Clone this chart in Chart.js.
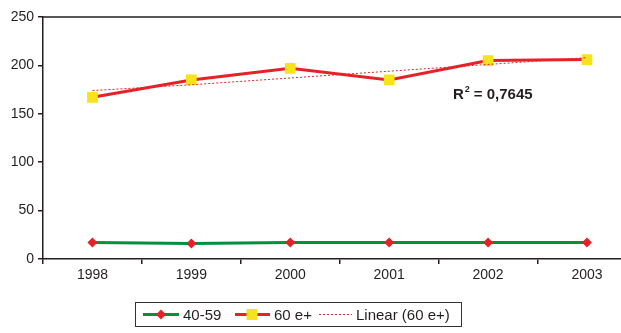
<!DOCTYPE html>
<html>
<head>
<meta charset="utf-8">
<script src="https://cdn.jsdelivr.net/npm/chart.js@4.4.0/dist/chart.umd.min.js"></script>
<style>
  html, body { margin: 0; padding: 0; background: #fff; overflow: hidden; }
  #wrap { width: 644px; height: 333px; position: relative; }
</style>
</head>
<body>
<div id="wrap"><canvas id="grafico"></canvas></div>
<script>
// Dados
const anos = ['1998', '1999', '2000', '2001', '2002', '2003'];
const faixa40a59 = [17, 16, 17, 17, 17, 17];
const faixa60mais = [167, 185, 197, 185, 205, 206];
const linear60mais = [174, 180, 187, 194, 201, 208];
const rotulos = ['40-59', '60 e+', 'Linear (60 e+)'];
const valorR2 = '0,7645';
const yMin = 0, yMax = 250, yPasso = 50;

// Cores
const verde = '#00913f';
const vermelho = '#e42228';
const amarelo = '#f7e31b';
const texto = '#231f20';
const fonte = '"Liberation Sans", Arial, sans-serif';

// Borda superior, R² e legenda desenhados por cima
const extras = {
  id: 'extras',
  afterDraw(chart) {
    const { ctx, chartArea: a } = chart;
    ctx.save();

    // borda superior da área do gráfico
    ctx.strokeStyle = texto;
    ctx.lineWidth = 1.5;
    ctx.beginPath();
    ctx.moveTo(a.left, a.top);
    ctx.lineTo(a.right, a.top);
    ctx.stroke();

    // R²
    ctx.fillStyle = texto;
    ctx.textBaseline = 'alphabetic';
    let x = 453, y = 99;
    ctx.font = 'bold 15px ' + fonte;
    ctx.fillText('R', x, y);
    x += ctx.measureText('R').width + 1;
    ctx.font = 'bold 9px ' + fonte;
    ctx.fillText('2', x, y - 7);
    x += ctx.measureText('2').width + 4;
    ctx.font = 'bold 15px ' + fonte;
    ctx.fillText('= ' + valorR2, x, y);

    // legenda
    ctx.strokeStyle = '#333';
    ctx.lineWidth = 1;
    ctx.fillStyle = '#fff';
    ctx.fillRect(135.5, 302.5, 326, 24);
    ctx.strokeRect(135.5, 302.5, 326, 24);
    const cy = 314.5;

    ctx.lineWidth = 3;
    ctx.strokeStyle = verde;
    ctx.beginPath(); ctx.moveTo(143, cy); ctx.lineTo(179, cy); ctx.stroke();
    ctx.fillStyle = vermelho;
    ctx.beginPath();
    ctx.moveTo(161 - 5, cy); ctx.lineTo(161, cy - 5); ctx.lineTo(161 + 5, cy); ctx.lineTo(161, cy + 5);
    ctx.closePath(); ctx.fill();

    ctx.strokeStyle = vermelho;
    ctx.beginPath(); ctx.moveTo(235, cy); ctx.lineTo(270, cy); ctx.stroke();
    ctx.fillStyle = amarelo;
    ctx.fillRect(252 - 5.5, cy - 5.5, 11, 11);

    ctx.lineWidth = 1;
    ctx.setLineDash([2, 2]);
    ctx.beginPath(); ctx.moveTo(319, cy); ctx.lineTo(352, cy); ctx.stroke();
    ctx.setLineDash([]);

    ctx.fillStyle = texto;
    ctx.font = '15px ' + fonte;
    ctx.textBaseline = 'middle';
    ctx.fillText(rotulos[0], 183, cy + 1);
    ctx.fillText(rotulos[1], 274, cy + 1);
    ctx.fillText(rotulos[2], 356, cy + 1);

    ctx.restore();
  }
};

new Chart(document.getElementById('grafico'), {
  type: 'line',
  data: {
    labels: anos,
    datasets: [
      {
        label: rotulos[2],
        data: linear60mais,
        borderColor: vermelho,
        borderWidth: 1,
        borderDash: [2, 2],
        pointRadius: 0,
        tension: 0
      },
      {
        label: rotulos[0],
        data: faixa40a59,
        borderColor: verde,
        borderWidth: 3,
        pointStyle: 'rectRot',
        pointRadius: 5,
        pointBackgroundColor: vermelho,
        pointBorderColor: vermelho,
        pointBorderWidth: 0,
        tension: 0
      },
      {
        label: rotulos[1],
        data: faixa60mais,
        borderColor: vermelho,
        borderWidth: 3,
        pointStyle: 'rect',
        pointRadius: 7.6,
        pointBackgroundColor: amarelo,
        pointBorderColor: amarelo,
        pointBorderWidth: 0,
        tension: 0
      }
    ]
  },
  options: {
    responsive: true,
    maintainAspectRatio: false,
    animation: false,
    layout: { padding: { top: 17, right: 4, bottom: 50, left: 0 } },
    plugins: {
      legend: { display: false },
      tooltip: { enabled: false }
    },
    scales: {
      x: {
        offset: true,
        afterFit: s => { s.height = 24; },
        grid: {
          offset: true,
          drawOnChartArea: false,
          tickLength: 5,
          color: texto,
          lineWidth: 1.5
        },
        border: { color: texto, width: 1.5 },
        ticks: {
          color: texto,
          font: { family: fonte, size: 14 },
          padding: 3,
          maxRotation: 0
        }
      },
      y: {
        min: yMin,
        max: yMax,
        afterFit: s => { s.width = 43; },
        grid: {
          drawOnChartArea: false,
          tickLength: 5,
          color: texto,
          lineWidth: 1.5
        },
        border: { color: texto, width: 1.5 },
        ticks: {
          stepSize: yPasso,
          color: texto,
          font: { family: fonte, size: 14 },
          padding: 4
        }
      }
    }
  },
  plugins: [extras]
});
</script>
</body>
</html>
